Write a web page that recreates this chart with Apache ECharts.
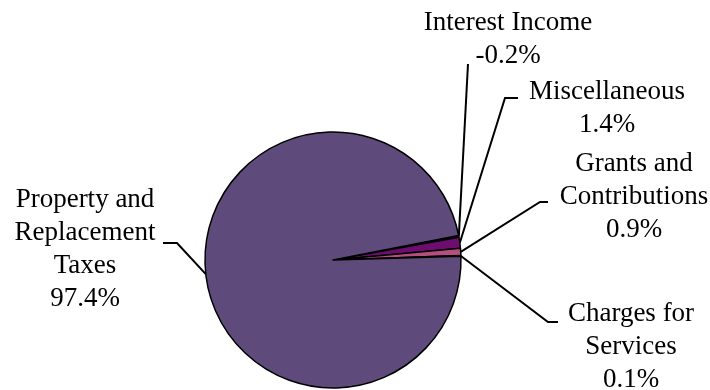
<!DOCTYPE html>
<html>
<head>
<meta charset="utf-8">
<script src="https://cdn.jsdelivr.net/npm/echarts@6/dist/echarts.min.js"></script>
<style>
  html, body { margin: 0; padding: 0; background: #fff; }
  #main { width: 710px; height: 390px; }
</style>
</head>
<body>
<div id="main"></div>
<script>
// revenue sources, percent of total
var categories = ['Interest Income', 'Miscellaneous', 'Grants and\nContributions', 'Charges for\nServices', 'Property and\nReplacement\nTaxes'];
var shares = [-0.2, 1.4, 0.9, 0.1, 97.4];
var colors = ['#4f6fa8', '#6c0d6f', '#b5507e', '#8064a2', '#5f4b7b'];

// where each label sits and where its leader line bends (layout only)
var labelSpots = [
    {x: 508, y: 39, bend: [468, 64], end: [468, 64]},
    {x: 607, y: 108, bend: [505, 98], end: [518, 98]},
    {x: 634, y: 197, bend: [540, 202], end: [548, 202]},
    {x: 631, y: 347, bend: [548, 322], end: [558, 322]},
    {x: 85, y: 249, bend: [177, 243], end: [163, 243]}
];

var pieData = [];
for (var i = 0; i < categories.length; i++) {
    pieData.push({
        name: categories[i],
        // a pie can't draw a negative slice, so its size is the magnitude
        value: Math.abs(shares[i]),
        itemStyle: {color: colors[i]}
    });
}

var myChart = echarts.init(document.getElementById('main'));
var option = {
    animation: false,
    backgroundColor: '#fff',
    series: [{
        type: 'pie',
        center: [333, 260],
        radius: 128,
        startAngle: 11,
        clockwise: true,
        minAngle: 0,
        avoidLabelOverlap: false,
        data: pieData,
        itemStyle: {borderColor: '#000', borderWidth: 1.5},
        emphasis: {disabled: true},
        label: {
            show: true,
            position: 'outside',
            fontFamily: 'Liberation Serif',
            fontSize: 27,
            lineHeight: 33,
            color: '#000',
            align: 'center',
            formatter: function (p) {
                return categories[p.dataIndex] + '\n' + shares[p.dataIndex].toFixed(1) + '%';
            }
        },
        labelLine: {
            show: true,
            length: 10,
            length2: 10,
            lineStyle: {color: '#000', width: 2}
        },
        labelLayout: function (params) {
            var s = labelSpots[params.dataIndex];
            var p0 = params.labelLinePoints ? params.labelLinePoints[0] : s.bend;
            return {
                x: s.x,
                y: s.y,
                align: 'center',
                verticalAlign: 'middle',
                labelLinePoints: [p0, s.bend, s.end]
            };
        }
    }]
};
myChart.setOption(option);
</script>
</body>
</html>
